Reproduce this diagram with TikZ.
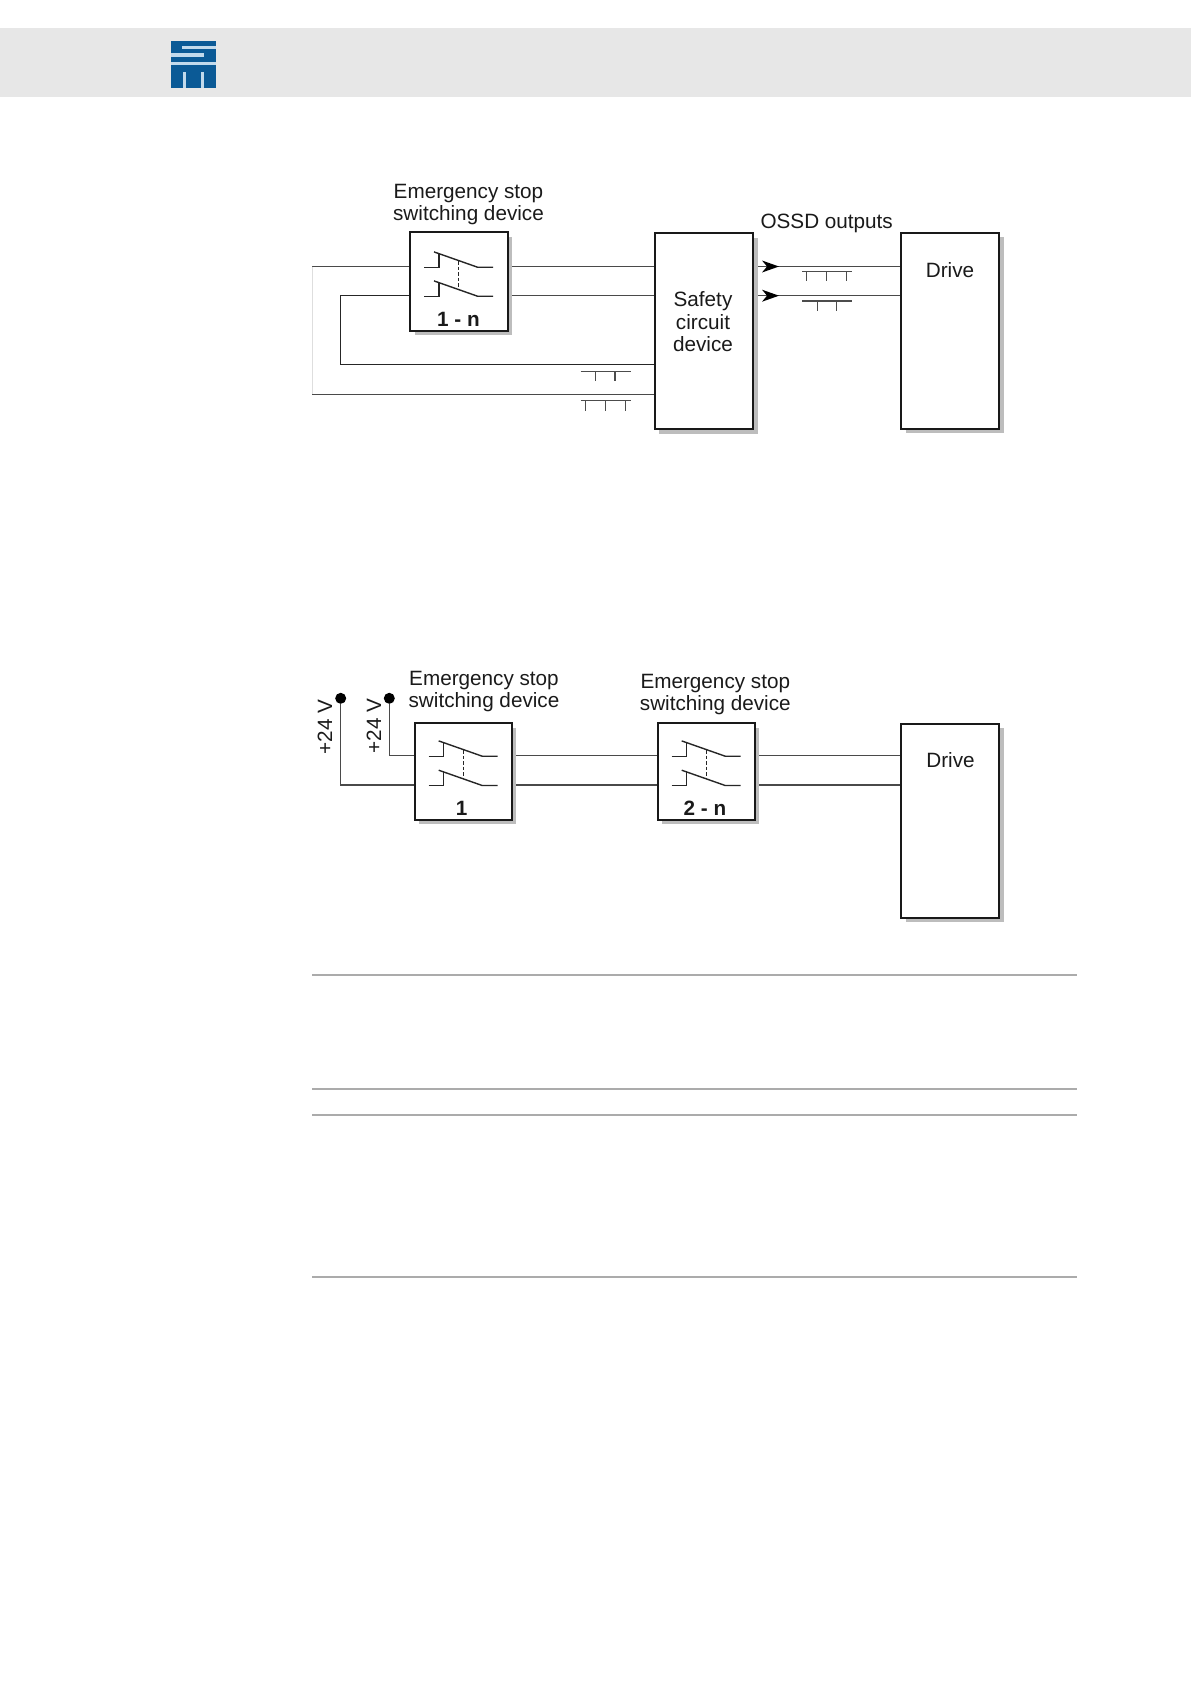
\documentclass[tikz,border=0pt]{standalone}
\usepackage{fontspec}
\setmainfont{Liberation Sans}
\usetikzlibrary{shadows,backgrounds}
\definecolor{hdr}{HTML}{E7E7E7}
\definecolor{sew}{HTML}{0B5A96}
\definecolor{sewl}{HTML}{C2DAEC}
\definecolor{shd}{HTML}{BDBDBD}
\definecolor{wire}{HTML}{4A4A4A}
\definecolor{rulec}{HTML}{ABABAB}
\definecolor{txt}{HTML}{1A1A1A}
\tikzset{
  box/.style={draw=black!90,line width=2.2pt,fill=white,inner sep=0pt,outer sep=0pt,
     drop shadow={shadow xshift=4.5pt,shadow yshift=-4.5pt,fill=shd,opacity=1}},
  wireline/.style={draw=wire,line width=1.3pt},
  darkwire/.style={draw=black!85,line width=1.5pt},
  paleline/.style={draw=black!13,line width=1pt},
  label/.style={text=txt,font=\fontsize{20.7}{21}\selectfont,inner sep=0pt,align=center},
  boldlabel/.style={text=txt,font=\fontsize{20.7}{21}\selectfont\bfseries,inner sep=0pt},
  swline/.style={draw=black!85,line width=1.4pt},
  barline/.style={draw=black!70,line width=1.3pt},
  pagerule/.style={draw=rulec,line width=1.6pt},
  dot/.style={circle,fill=black,inner sep=0pt,minimum size=11pt},
}
% \contactpair{x of box left}{upper contact y}{lower contact y}
\newcommand{\contactpair}[3]{%
  \foreach \cy in {#2,#3}{
    \draw[swline] (#1+14,\cy+0.5) -- (#1+29,\cy+0.5) -- (#1+29,\cy-13);
    \draw[swline] (#1+24,\cy-14.8) -- (#1+67.5,\cy+0.5) -- (#1+83,\cy+0.5);
  }
  \draw[swline,dash pattern=on 3.5pt off 2pt] (#1+48.7,#2-5.5) -- (#1+48.7,#3-6.5);
}
% \tickbar{x1}{x2}{y}{tick list}
\newcommand{\tickbar}[4]{%
  \draw[barline] (#1,#3) -- (#2,#3);
  \foreach \tx in {#4}{\draw[barline] (\tx,#3) -- (\tx,#3+10);}
}
\begin{document}
\begin{tikzpicture}[x=1pt,y=-1pt]
\useasboundingbox (0,0) rectangle (1191,1684);
% header
\fill[hdr] (0,28) rectangle (1191,97);
\fill[sew] (171,40.5) rectangle (216,88);
\fill[sewl] (182,45.6) rectangle (216,48.8);
\fill[sewl] (171,53.4) rectangle (204,56.6);
\fill[sewl] (171,61.8) rectangle (216,64.8);
\fill[sewl] (182.6,71.5) rectangle (185.6,88);
\fill[sewl] (201.3,71.5) rectangle (204.3,88);
% top diagram
\node[box,minimum width=97.7pt,minimum height=98.6pt,anchor=north west] (sw1) at (410,232) {};
\node[box,minimum width=98.3pt,minimum height=196.3pt,anchor=north west] (safety) at (654.7,233) {};
\node[box,minimum width=98pt,minimum height=196pt,anchor=north west] (drive1) at (901,232.7) {};
\coordinate (a1) at (312,266.7);
\coordinate (a2) at (312,394.3);
\coordinate (c1) at (340.7,295.7);
\coordinate (c2) at (340.7,364.7);
\begin{pgfonlayer}{background}
\draw[wireline] (a1) -- (a1 -| sw1.west);
\draw[wireline] (a1 -| sw1.east) -- (a1 -| safety.west);
\draw[wireline] (c1 -| sw1.east) -- (c1 -| safety.west);
\draw[darkwire] (c1 -| sw1.west) -- (c1) -- (c2) -- (c2 -| safety.west);
\draw[paleline] (a1) -- (a2);
\draw[wireline] (a2) -- (a2 -| safety.west);
\draw[wireline] (a1 -| safety.east) -- (a1 -| drive1.west);
\draw[wireline] (c1 -| safety.east) -- (c1 -| drive1.west);
\end{pgfonlayer}
\fill[black] (779,266.5) -- (762,260.5) -- (767,266.5) -- (762,272.5) -- cycle;
\fill[black] (779,295.7) -- (762,289.7) -- (767,295.7) -- (762,301.7) -- cycle;
\contactpair{410}{266.7}{295.7}
\tickbar{580.7}{630.7}{371.3}{595.7,615}
\tickbar{580.7}{630.7}{400.7}{585.7,605.7,625.7}
\tickbar{802}{852}{271.3}{806.7,826.7,846.7}
\tickbar{802}{852}{301}{817.3,836.7}
\node[label] (t1) at (468.5,193.5) {Emergency stop};
\node[label] (t2) at (468.5,215) {switching device};
\node[boldlabel] (n1) at (458.5,319) {1 - n};
\node[label] (t3) at (703,301) {Safety};
\node[label] (t4) at (703,322) {circuit};
\node[label] (t5) at (703,344.5) {device};
\node[label] (t6) at (826.7,223.5) {OSSD outputs};
\node[label] (t7) at (950,270) {Drive};
% bottom diagram
\node[box,minimum width=97pt,minimum height=96.7pt,anchor=north west] (sw2) at (414.7,723) {};
\node[box,minimum width=97pt,minimum height=96.7pt,anchor=north west] (sw3) at (657.7,723) {};
\node[box,minimum width=98pt,minimum height=194pt,anchor=north west] (drive2) at (901,723.9) {};
\node[dot] (p1) at (340.7,698.3) {};
\node[dot] (p2) at (389.3,698.3) {};
\coordinate (u1) at (389.3,755.7);
\coordinate (u2) at (340.7,785);
\begin{pgfonlayer}{background}
\draw[wireline] (p1) -- (u2) -- (u2 -| sw2.west);
\draw[wireline] (p2) -- (u1) -- (u1 -| sw2.west);
\draw[wireline] (u1 -| sw2.east) -- (u1 -| sw3.west);
\draw[wireline] (u2 -| sw2.east) -- (u2 -| sw3.west);
\draw[wireline] (u1 -| sw3.east) -- (u1 -| drive2.west);
\draw[wireline] (u2 -| sw3.east) -- (u2 -| drive2.west);
\end{pgfonlayer}
\contactpair{414.7}{755.7}{785}
\contactpair{657.7}{755.7}{785}
\node[label] (t8) at (484,680.5) {Emergency stop};
\node[label] (t9) at (484,702) {switching device};
\node[label] (t10) at (715.3,683.5) {Emergency stop};
\node[label] (t11) at (715.3,705) {switching device};
\node[boldlabel] (n2) at (461.7,808) {1};
\node[boldlabel] (n3) at (705,808) {2 - n};
\node[label,rotate=90] (v1) at (325,727) {+24 V};
\node[label,rotate=90] (v2) at (374,726) {+24 V};
\node[label] (t12) at (950.5,760) {Drive};
% rules
\coordinate (r0) at (312,975);
\coordinate (r1) at (312,1089);
\coordinate (r2) at (312,1115);
\coordinate (r3) at (312,1277);
\coordinate (re) at (1077,975);
\foreach \r in {r0,r1,r2,r3}{\draw[pagerule] (\r) -- (\r -| re);}
\end{tikzpicture}
\end{document}
